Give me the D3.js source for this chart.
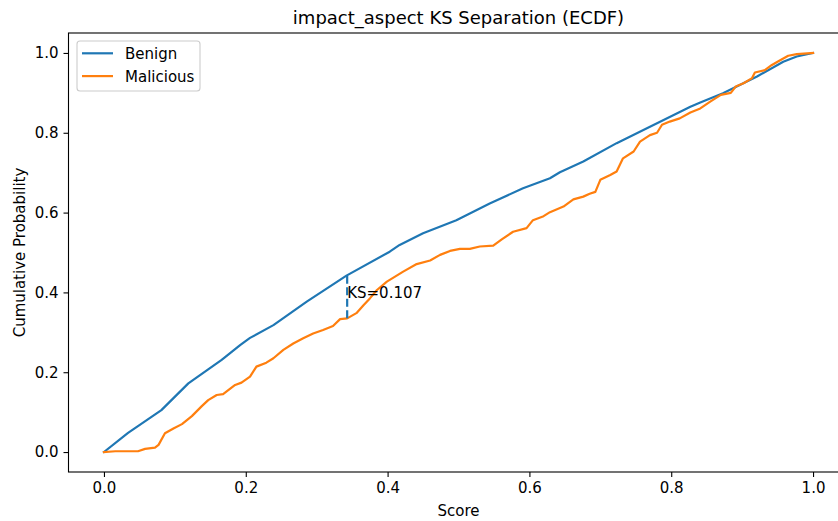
<!DOCTYPE html>
<html>
<head>
<meta charset="utf-8">
<script src="https://cdn.jsdelivr.net/npm/d3@7"></script>
<style>
  html, body { margin: 0; padding: 0; background: #fff; }
  svg { display: block; font-family: "DejaVu Sans", sans-serif; }
</style>
</head>
<body>
<svg id="chart" width="838" height="521"></svg>
<script>
// ECDF samples (score, cumulative probability) for each class
const benignScore = [0, 0.034, 0.081, 0.119, 0.166, 0.192, 0.206, 0.239, 0.286, 0.342, 0.403, 0.417, 0.450, 0.497, 0.544, 0.591, 0.629, 0.643, 0.676, 0.723, 0.770, 0.827, 0.841, 0.873, 0.921, 0.958, 0.977, 1.0];
const benignCdf   = [0, 0.048, 0.105, 0.172, 0.231, 0.268, 0.286, 0.318, 0.377, 0.442, 0.502, 0.519, 0.548, 0.581, 0.623, 0.661, 0.686, 0.701, 0.728, 0.774, 0.815, 0.865, 0.876, 0.899, 0.941, 0.978, 0.991, 1.0];

const maliciousScore = [0, 0.016, 0.048, 0.058, 0.072, 0.077, 0.086, 0.098, 0.110, 0.124, 0.138, 0.147, 0.159, 0.168, 0.185, 0.194, 0.206, 0.215, 0.229, 0.239, 0.253, 0.267, 0.281, 0.295, 0.309, 0.323, 0.333, 0.343, 0.356, 0.366, 0.375, 0.385, 0.399, 0.422, 0.441, 0.460, 0.474, 0.488, 0.502, 0.516, 0.530, 0.549, 0.561, 0.577, 0.596, 0.605, 0.620, 0.629, 0.648, 0.662, 0.676, 0.685, 0.693, 0.700, 0.714, 0.723, 0.732, 0.747, 0.756, 0.770, 0.780, 0.787, 0.798, 0.812, 0.827, 0.841, 0.855, 0.870, 0.884, 0.891, 0.902, 0.914, 0.918, 0.932, 0.942, 0.953, 0.965, 0.977, 1.0];
const maliciousCdf   = [0, 0.002, 0.002, 0.008, 0.011, 0.018, 0.047, 0.059, 0.070, 0.090, 0.115, 0.130, 0.143, 0.145, 0.168, 0.174, 0.189, 0.214, 0.224, 0.235, 0.256, 0.272, 0.285, 0.297, 0.306, 0.316, 0.333, 0.335, 0.348, 0.368, 0.385, 0.406, 0.427, 0.452, 0.471, 0.480, 0.494, 0.504, 0.509, 0.509, 0.515, 0.517, 0.533, 0.552, 0.561, 0.581, 0.591, 0.601, 0.615, 0.633, 0.640, 0.647, 0.652, 0.682, 0.694, 0.703, 0.736, 0.753, 0.778, 0.794, 0.800, 0.820, 0.828, 0.836, 0.851, 0.861, 0.878, 0.895, 0.900, 0.916, 0.924, 0.937, 0.951, 0.957, 0.970, 0.981, 0.993, 0.997, 1.0];

// KS statistic location and value
const ksScore = 0.343;
const ksLow = 0.335;
const ksHigh = 0.442;
const ksValue = 0.107;

const xTicks = [0.0, 0.2, 0.4, 0.6, 0.8, 1.0];
const yTicks = [0.0, 0.2, 0.4, 0.6, 0.8, 1.0];

const seriesNames = ["Benign", "Malicious"];
const seriesColors = ["#1f77b4", "#ff7f0e"];

const svg = d3.select("#chart");
const plotLeft = 68.5, plotRight = 848.5, plotTop = 33, plotBottom = 472;
const fs = 15;       // tick / label font size
const lw = 2.2;      // data line width

const x = d3.scaleLinear().domain([-0.05, 1.05]).range([plotLeft, plotRight]);
const y = d3.scaleLinear().domain([-0.05, 1.05]).range([plotBottom, plotTop]);

svg.append("clipPath").attr("id", "clip")
  .append("rect").attr("x", plotLeft).attr("y", plotTop)
  .attr("width", plotRight - plotLeft).attr("height", plotBottom - plotTop);

const line = d3.line().x(d => x(d[0])).y(d => y(d[1]));
const series = [
  d3.zip(benignScore, benignCdf),
  d3.zip(maliciousScore, maliciousCdf)
];

const marks = svg.append("g").attr("clip-path", "url(#clip)");
series.forEach((pts, i) => {
  marks.append("path")
    .datum(pts)
    .attr("d", line)
    .attr("fill", "none")
    .attr("stroke", seriesColors[i])
    .attr("stroke-width", lw)
    .attr("stroke-linejoin", "round")
    .attr("stroke-linecap", "square");
});

// KS gap marker
marks.append("line")
  .attr("x1", x(ksScore)).attr("x2", x(ksScore))
  .attr("y1", y(ksLow)).attr("y2", y(ksHigh))
  .attr("stroke", seriesColors[0])
  .attr("stroke-width", lw)
  .attr("stroke-dasharray", "8,3.5");

svg.append("text")
  .attr("x", x(ksScore))
  .attr("y", y((ksLow + ksHigh) / 2) + 1)
  .attr("font-size", fs)
  .attr("fill", "#000")
  .text("KS=" + ksValue.toFixed(3));

// Axes
const xAxis = d3.axisBottom(x).tickValues(xTicks).tickFormat(d3.format(".1f")).tickSizeInner(5).tickSizeOuter(0).tickPadding(5);
const yAxis = d3.axisLeft(y).tickValues(yTicks).tickFormat(d3.format(".1f")).tickSizeInner(5).tickSizeOuter(0).tickPadding(5);

const gx = svg.append("g").attr("transform", `translate(0,${plotBottom})`).call(xAxis);
const gy = svg.append("g").attr("transform", `translate(${plotLeft},0)`).call(yAxis);
[gx, gy].forEach(g => {
  g.select(".domain").remove();
  g.selectAll(".tick line").attr("stroke", "#000").attr("stroke-width", 1.1);
  g.selectAll(".tick text").attr("font-size", fs).attr("fill", "#000").attr("font-family", "DejaVu Sans, sans-serif");
});

// Frame
svg.append("rect")
  .attr("x", plotLeft).attr("y", plotTop)
  .attr("width", plotRight - plotLeft).attr("height", plotBottom - plotTop)
  .attr("fill", "none").attr("stroke", "#000").attr("stroke-width", 1.1);

// Labels
svg.append("text")
  .attr("x", (plotLeft + plotRight) / 2).attr("y", 24)
  .attr("text-anchor", "middle").attr("font-size", 18)
  .text("impact_aspect KS Separation (ECDF)");

svg.append("text")
  .attr("x", (plotLeft + plotRight) / 2).attr("y", 516)
  .attr("text-anchor", "middle").attr("font-size", fs)
  .text("Score");

svg.append("text")
  .attr("transform", `translate(25,${(plotTop + plotBottom) / 2}) rotate(-90)`)
  .attr("text-anchor", "middle").attr("font-size", fs)
  .text("Cumulative Probability");

// Legend
const legend = svg.append("g");
legend.append("rect")
  .attr("x", 77).attr("y", 41).attr("width", 123).attr("height", 50)
  .attr("rx", 3).attr("fill", "#fff").attr("fill-opacity", 0.8)
  .attr("stroke", "#cccccc").attr("stroke-width", 1.1);
seriesNames.forEach((name, i) => {
  const ly = 53.3 + i * 22.8;
  legend.append("line")
    .attr("x1", 82).attr("x2", 113).attr("y1", ly).attr("y2", ly)
    .attr("stroke", seriesColors[i]).attr("stroke-width", lw);
  legend.append("text")
    .attr("x", 125).attr("y", ly + 5.5).attr("font-size", fs)
    .text(name);
});
</script>
</body>
</html>
